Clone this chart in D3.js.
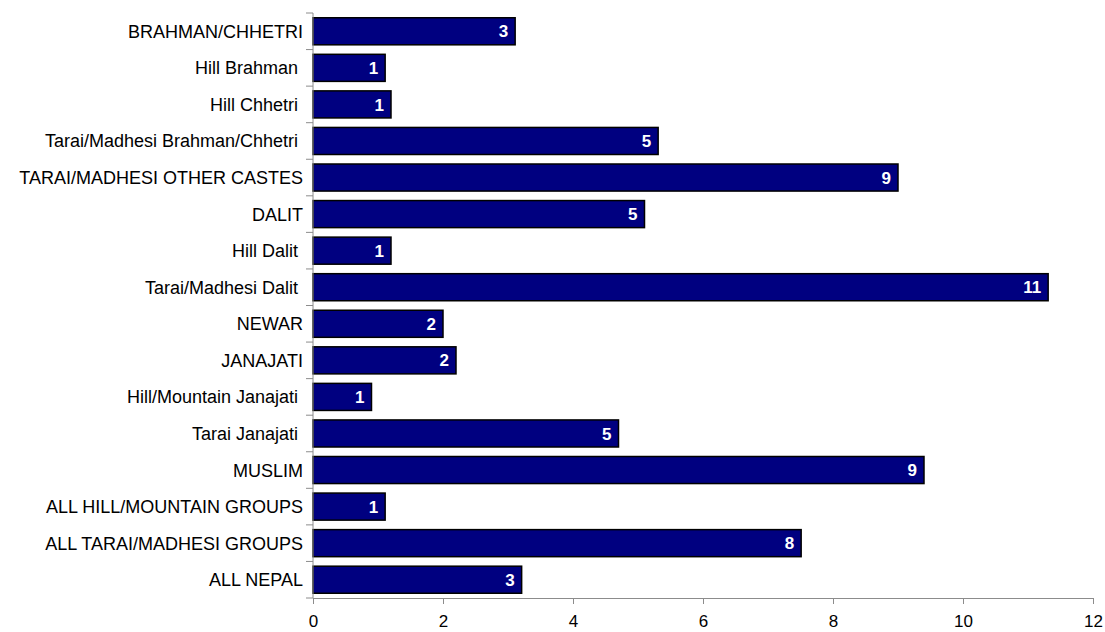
<!DOCTYPE html>
<html>
<head>
<meta charset="utf-8">
<script src="https://cdn.jsdelivr.net/npm/d3@7"></script>
<style>
  body { margin: 0; background: #ffffff; }
  svg { display: block; font-family: Arial, "Liberation Sans", sans-serif; }
</style>
</head>
<body>
<svg id="chart" width="1105" height="632"></svg>
<script>
const categories = [
  "BRAHMAN/CHHETRI",
  "Hill Brahman ",
  "Hill Chhetri ",
  "Tarai/Madhesi Brahman/Chhetri ",
  "TARAI/MADHESI OTHER CASTES",
  "DALIT",
  "Hill Dalit ",
  "Tarai/Madhesi Dalit ",
  "NEWAR",
  "JANAJATI",
  "Hill/Mountain Janajati ",
  "Tarai Janajati ",
  "MUSLIM",
  "ALL HILL/MOUNTAIN GROUPS",
  "ALL TARAI/MADHESI GROUPS",
  "ALL NEPAL"
];
const values = [3.11, 1.11, 1.2, 5.31, 9.0, 5.1, 1.2, 11.31, 2.0, 2.2, 0.9, 4.7, 9.4, 1.11, 7.51, 3.21];
const xTicks = [0, 2, 4, 6, 8, 10, 12];

const margin = { top: 13, right: 12, bottom: 34, left: 313 };
const W = 1105, H = 632;
const svg = d3.select("#chart");
const g = svg.append("g").attr("transform", `translate(${margin.left},${margin.top})`);
const iw = W - margin.left - margin.right;
const ih = H - margin.top - margin.bottom;

const x = d3.scaleLinear().domain([0, 12]).range([0, iw]);
const y = d3.scaleBand().domain(categories).range([0, ih]).paddingInner(0.26).paddingOuter(0.13);

// bars
g.selectAll("rect.bar").data(categories).join("rect")
  .attr("class", "bar")
  .attr("x", x(0))
  .attr("y", d => y(d))
  .attr("width", (d, i) => x(values[i]) - x(0))
  .attr("height", y.bandwidth())
  .attr("fill", "#000080")
  .attr("stroke", "#000000")
  .attr("stroke-width", 1.5);

// value labels
g.selectAll("text.val").data(categories).join("text")
  .attr("class", "val")
  .attr("x", (d, i) => x(values[i]) - 7)
  .attr("y", d => y(d) + y.bandwidth() / 2)
  .attr("dy", "0.36em")
  .attr("text-anchor", "end")
  .attr("fill", "#ffffff")
  .attr("font-weight", "bold")
  .attr("font-size", 17)
  .text((d, i) => Math.round(values[i]));

// y axis line and boundary ticks
const axisColor = "#8c8c8c";
g.append("line").attr("x1", 0).attr("x2", 0).attr("y1", 0).attr("y2", ih)
  .attr("stroke", axisColor).attr("stroke-width", 1);
const step = y.step();
const boundaries = d3.range(categories.length + 1).map(i => (y(categories[0]) - y.paddingOuter() * step) + i * step);
g.selectAll("line.ytick").data(boundaries).join("line")
  .attr("class", "ytick")
  .attr("x1", -7).attr("x2", 0)
  .attr("y1", d => d).attr("y2", d => d)
  .attr("stroke", axisColor).attr("stroke-width", 1);

// category labels
g.selectAll("text.cat").data(categories).join("text")
  .attr("class", "cat")
  .attr("x", -10)
  .attr("y", d => y(d) + y.bandwidth() / 2)
  .attr("dy", "0.36em")
  .attr("text-anchor", "end")
  .attr("font-size", 18)
  .attr("fill", "#000000")
  .style("white-space", "pre")
  .text(d => d);

// x axis
const xAxis = g.append("g")
  .attr("transform", `translate(0,${ih})`)
  .call(d3.axisBottom(x).tickValues(xTicks).tickSize(6).tickPadding(11).tickSizeOuter(0));
xAxis.select(".domain").attr("stroke", axisColor);
xAxis.selectAll(".tick line").attr("stroke", axisColor);
xAxis.selectAll(".tick text").attr("font-size", 17).attr("fill", "#000000")
  .attr("font-family", "Arial, 'Liberation Sans', sans-serif");
</script>
</body>
</html>
